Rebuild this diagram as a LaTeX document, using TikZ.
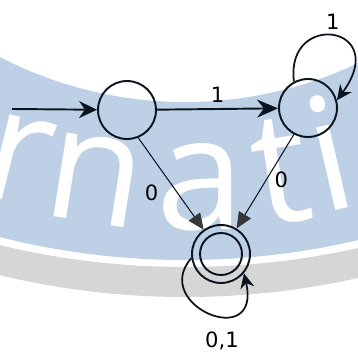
\documentclass[tikz,border=0pt]{standalone}
\usepackage{fontspec}
\setmainfont{DejaVu Sans}
\newfontfamily\markfont{Open Sans}
\usepackage{tikz}
\usetikzlibrary{automata,arrows.meta}
\definecolor{bandblue}{RGB}{190,208,230}
\definecolor{bandgray}{RGB}{214,214,214}
\definecolor{ink}{RGB}{12,20,32}
\definecolor{headgray}{RGB}{55,55,55}

\begin{document}
\begin{tikzpicture}[x=0.02cm,y=-0.02cm,font=\fontsize{12}{14}\selectfont,
    every state/.style={draw=ink,line width=1.1pt,minimum size=1.16cm,inner sep=0pt},
    wmark/.style={text=white,inner sep=0pt,font=\markfont\fontsize{90}{96}\selectfont},
    edge/.style={draw=ink,line width=1.1pt,-{Stealth[length=0.42cm,width=0.36cm]}},
    thinedge/.style={draw=ink,line width=0.6pt,-{Triangle[length=0.32cm,width=0.28cm,color=headgray]}},
    loopedge/.style={draw=ink,line width=1pt,-{Stealth[length=0.3cm,width=0.28cm]}}]
  \useasboundingbox (0,0) rectangle (358,358);
  \begin{scope}
    \clip (0,0) rectangle (358,358);
    \fill[bandblue,even odd rule] (185,-495) circle [radius=755] (185,-301) circle [radius=403];
    \fill[bandgray,even odd rule] (185,-492) circle [radius=789] (185,-522) circle [radius=789];
    \foreach \ch/\x/\y/\rot in {r/18/160/-14, n/95/180/-9, a/200/187/0, t/281/171/9, i/329/152/13}{
      \node[wmark,rotate=\rot] (m\ch) at (\x,\y) {\ch};
    }
  \end{scope}

  \node[state] (q0) at (127,110) {};
  \node[state] (q1) at (308,108) {};
  \node[state] (q2) at (221,254) {};
  \draw[ink,line width=1.1pt] (q2) circle [radius=21];
  \coordinate (in) at (12,109);

  \draw[edge,-{Stealth[length=0.36cm,width=0.34cm]}] (in) -- (q0);
  \draw[edge] (q0) -- node[above] {1} (q1);
  \draw[thinedge] (q0.-68) -- (q2) node[pos=0.6,xshift=-0.52cm] {0};
  \draw[thinedge] (q1.-118) -- (q2) node[pos=0.48,xshift=0.3cm] {0};
  \draw[loopedge] (q1.118) .. controls (285,10) and (392,25) .. (q1.15) node[pos=0.5,above] {1};
  \draw[loopedge] (q2.188) .. controls (150,305) and (262,352) .. (q2.-40) node[pos=0.5,xshift=0.26cm,yshift=-0.56cm] {0,1};
\end{tikzpicture}
\end{document}
